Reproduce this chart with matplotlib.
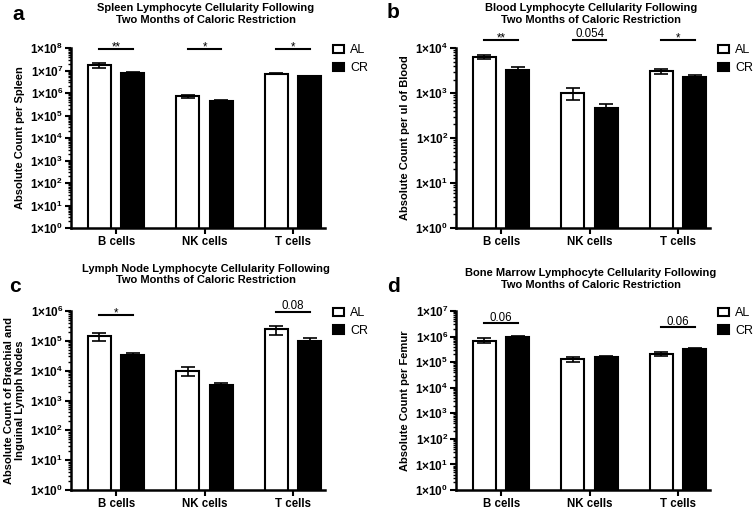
import matplotlib
matplotlib.use("Agg")
import matplotlib.pyplot as plt
import matplotlib.ticker as mticker
from matplotlib.patches import Patch
import numpy as np

plt.rcParams['font.family'] = ['Liberation Sans', 'DejaVu Sans']
plt.rcParams['mathtext.default'] = 'regular'

cells = ["B cells", "NK cells", "T cells"]

# spleen (a)
spleen_al = [1.75e7, 7.2e5, 7.3e6]
spleen_al_err = [4.5e6, 1.4e5, 5e5]
spleen_cr = [8.1e6, 4.4e5, 5.5e6]
spleen_cr_err = [5e5, 5e4, 4e5]
spleen_sig = [(0, "**", 9.5e7), (1, "*", 9.5e7), (2, "*", 9.5e7)]

# blood (b)
blood_al = [6300, 1000, 3050]
blood_al_err = [700, 300, 400]
blood_cr = [3200, 470, 2250]
blood_cr_err = [500, 105, 300]
blood_sig = [(0, "**", 1.5e4), (1, "0.054", 1.5e4), (2, "*", 1.5e4)]

# lymph nodes (c)
lymph_al = [1.45e5, 1.0e4, 2.4e5]
lymph_al_err = [4.5e4, 3.5e3, 8e4]
lymph_cr = [3.3e4, 3.3e3, 9.8e4]
lymph_cr_err = [5e3, 6e2, 2.2e4]
lymph_sig = [(0, "*", 7.2e5), (2, "0.08", 9.5e5)]

# bone marrow (d)
marrow_al = [7.0e5, 1.3e5, 2.05e5]
marrow_al_err = [1.6e5, 3e4, 3.5e4]
marrow_cr = [9.7e5, 1.6e5, 3.3e5]
marrow_cr_err = [5e4, 2e4, 2.5e4]
marrow_sig = [(0, "0.06", 3.3e6), (2, "0.06", 2.3e6)]

panels = [
    ("a", "Spleen Lymphocyte Cellularity Following\nTwo Months of Caloric Restriction",
     "Absolute Count per Spleen", spleen_al, spleen_al_err, spleen_cr, spleen_cr_err,
     spleen_sig, 8, [0.0939, 0.552, 0.336, 0.3536], 18, (18, 15)),
    ("b", "Blood Lymphocyte Cellularity Following\nTwo Months of Caloric Restriction",
     "Absolute Count per ul of Blood", blood_al, blood_al_err, blood_cr, blood_cr_err,
     blood_sig, 4, [0.6032, 0.552, 0.336, 0.3536], 18, (393, 13)),
    ("c", "Lymph Node Lymphocyte Cellularity Following\nTwo Months of Caloric Restriction",
     "Absolute Count of Brachial and\nInguinal Lymph Nodes", lymph_al, lymph_al_err,
     lymph_cr, lymph_cr_err, lymph_sig, 6, [0.0939, 0.0373, 0.336, 0.3517], 20, (15, 287)),
    ("d", "Bone Marrow Lymphocyte Cellularity Following\nTwo Months of Caloric Restriction",
     "Absolute Count per Femur", marrow_al, marrow_al_err, marrow_cr, marrow_cr_err,
     marrow_sig, 7, [0.6032, 0.0373, 0.336, 0.3517], 16.5, (393, 287)),
]

W, H = 756, 509
fig = plt.figure(figsize=(W / 100, H / 100), dpi=100)

x = np.arange(len(cells))
off = 0.19
bw = 0.26


def sci_label(v, pos):
    n = int(round(np.log10(v)))
    return "1×10$^{%d}$" % n


for letter, title, ylab, al, al_err, cr, cr_err, sig, top, rect, pad, lpos in panels:
    ax = fig.add_axes(rect)
    ax.set_yscale("log")
    ekw = dict(ecolor="black", elinewidth=1.2, capsize=5, capthick=1.2)
    ax.bar(x - off, al, bw, yerr=al_err, color="white", edgecolor="black",
           linewidth=1.5, error_kw=ekw, label="AL")
    ax.bar(x + off, cr, bw, yerr=cr_err, color="black", edgecolor="black",
           linewidth=1.5, error_kw=ekw, label="CR")
    ax.set_ylim(1, 10 ** top)
    ax.set_xlim(-0.51, 2.36)

    decades = 10.0 ** np.arange(top + 1)
    minors = [d * s for d in decades[:-1] for s in range(2, 10)]
    ax.yaxis.set_major_locator(mticker.FixedLocator(decades))
    ax.yaxis.set_minor_locator(mticker.FixedLocator(minors))
    ax.yaxis.set_major_formatter(mticker.FuncFormatter(sci_label))
    ax.yaxis.set_minor_formatter(mticker.NullFormatter())
    ax.set_xticks(x)
    ax.set_xticklabels(cells, fontsize=8.3, fontweight="bold")
    for lab in ax.get_yticklabels():
        lab.set_fontweight("bold")
        lab.set_fontsize(8.5)
    ax.tick_params(axis="both", which="major", length=4, width=1.5, pad=1.5)
    ax.tick_params(axis="y", which="minor", length=2.5, width=1)

    for s in ["top", "right"]:
        ax.spines[s].set_visible(False)
    for s in ["left", "bottom"]:
        ax.spines[s].set_linewidth(1.8)

    ax.set_ylabel(ylab, fontsize=8, fontweight="bold")
    ax.yaxis.set_label_coords(-0.18, 0.5)
    ax.set_title(title, fontsize=8, fontweight="bold", x=0.53, pad=pad)

    for i, txt, yv in sig:
        ax.plot([i - off, i + off], [yv, yv], color="black", lw=1.5, clip_on=False)
        dy = -1 if txt.startswith("*") else 2
        ax.annotate(txt, (i, yv), xytext=(0, dy), textcoords="offset points",
                    ha="center", va="baseline", fontsize=8.3, annotation_clip=False)

    handles = [Patch(facecolor="white", edgecolor="black", linewidth=1.5, label="AL"),
               Patch(facecolor="black", edgecolor="black", linewidth=1.5, label="CR")]
    ax.legend(handles=handles, loc="upper left", bbox_to_anchor=(1.03, 1.02),
              frameon=False, fontsize=9, handlelength=0.9, handleheight=0.65,
              handletextpad=0.5, labelspacing=0.45, borderpad=0, borderaxespad=0)

    fig.text(lpos[0] / W, 1 - lpos[1] / H, letter, fontsize=15, fontweight="bold",
             ha="center", va="center")

fig.savefig("out.png", dpi=100)
